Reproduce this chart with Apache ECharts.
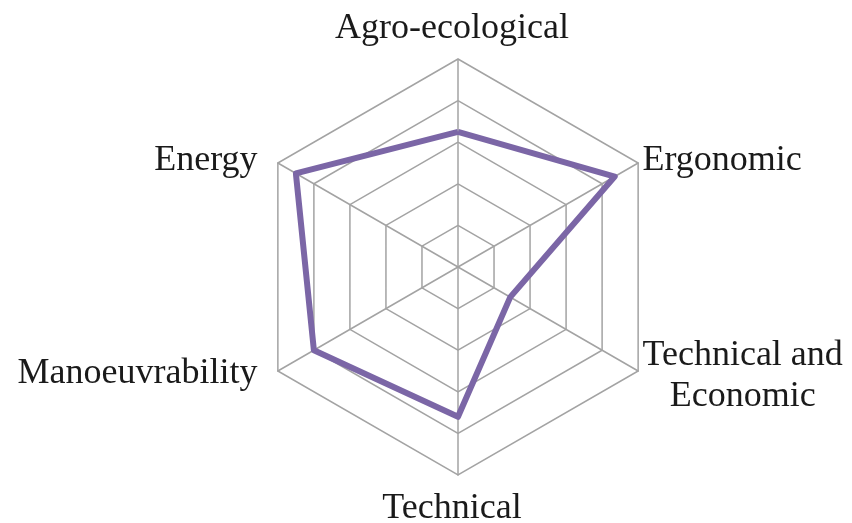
<!DOCTYPE html>
<html>
<head>
<meta charset="utf-8">
<script src="https://cdn.jsdelivr.net/npm/echarts@6/dist/echarts.min.js"></script>
<style>
html,body{margin:0;padding:0;background:#fff;}
#chart{width:852px;height:523px;}
</style>
</head>
<body>
<div id="chart"></div>
<script>
// Indicators listed in ECharts order (counter-clockwise starting at top)
const indicators = ['Agro-ecological', 'Energy', 'Manoeuvrability', 'Technical', 'Technical and Economic', 'Ergonomic'];
const maxValue = 5;
const values = [3.25, 4.5, 4.0, 3.6, 1.45, 4.35];

const labelStyleKey = {
  'Agro-ecological': 'top',
  'Energy': 'left',
  'Manoeuvrability': 'left',
  'Technical': 'bottom',
  'Technical and Economic': 'two',
  'Ergonomic': 'right'
};

const fontBase = {
  color: '#1a1a1a',
  fontFamily: '"Liberation Serif", "DejaVu Serif", serif',
  fontSize: 36,
  lineHeight: 41
};

const chart = echarts.init(document.getElementById('chart'));
chart.setOption({
  backgroundColor: '#ffffff',
  animation: false,
  radar: {
    center: [458, 267],
    radius: 208,
    startAngle: 90,
    shape: 'polygon',
    splitNumber: 5,
    nameGap: 5,
    indicator: indicators.map(n => ({ name: n, max: maxValue, min: 0 })),
    axisName: Object.assign({}, fontBase, {
      formatter: function (name) {
        const key = labelStyleKey[name];
        if (key === 'two') {
          return '{two|Technical and}\n{twoc|Economic}';
        }
        return '{' + key + '|' + name + '}';
      },
      rich: {
        top: Object.assign({}, fontBase, { padding: [0, 12, 10, 0] }),
        bottom: Object.assign({}, fontBase, { padding: [16, 12, 0, 0] }),
        left: Object.assign({}, fontBase, { padding: [0, 16, 0, 0] }),
        right: Object.assign({}, fontBase, { padding: [0, 0, 0, 0] }),
        two: Object.assign({}, fontBase, { padding: [5, 0, 0, 0] }),
        twoc: Object.assign({}, fontBase, { align: 'center', padding: [5, 0, 0, 0] })
      }
    }),
    axisLine: { lineStyle: { color: '#a3a3a3', width: 1.5 } },
    splitLine: { lineStyle: { color: '#a3a3a3', width: 1.5 } },
    splitArea: { show: false },
    axisTick: { show: false },
    axisLabel: { show: false }
  },
  series: [{
    type: 'radar',
    symbol: 'none',
    lineStyle: { color: '#7b66a6', width: 6 },
    itemStyle: { color: '#7b66a6' },
    data: [{ value: values }]
  }]
});
</script>
</body>
</html>
